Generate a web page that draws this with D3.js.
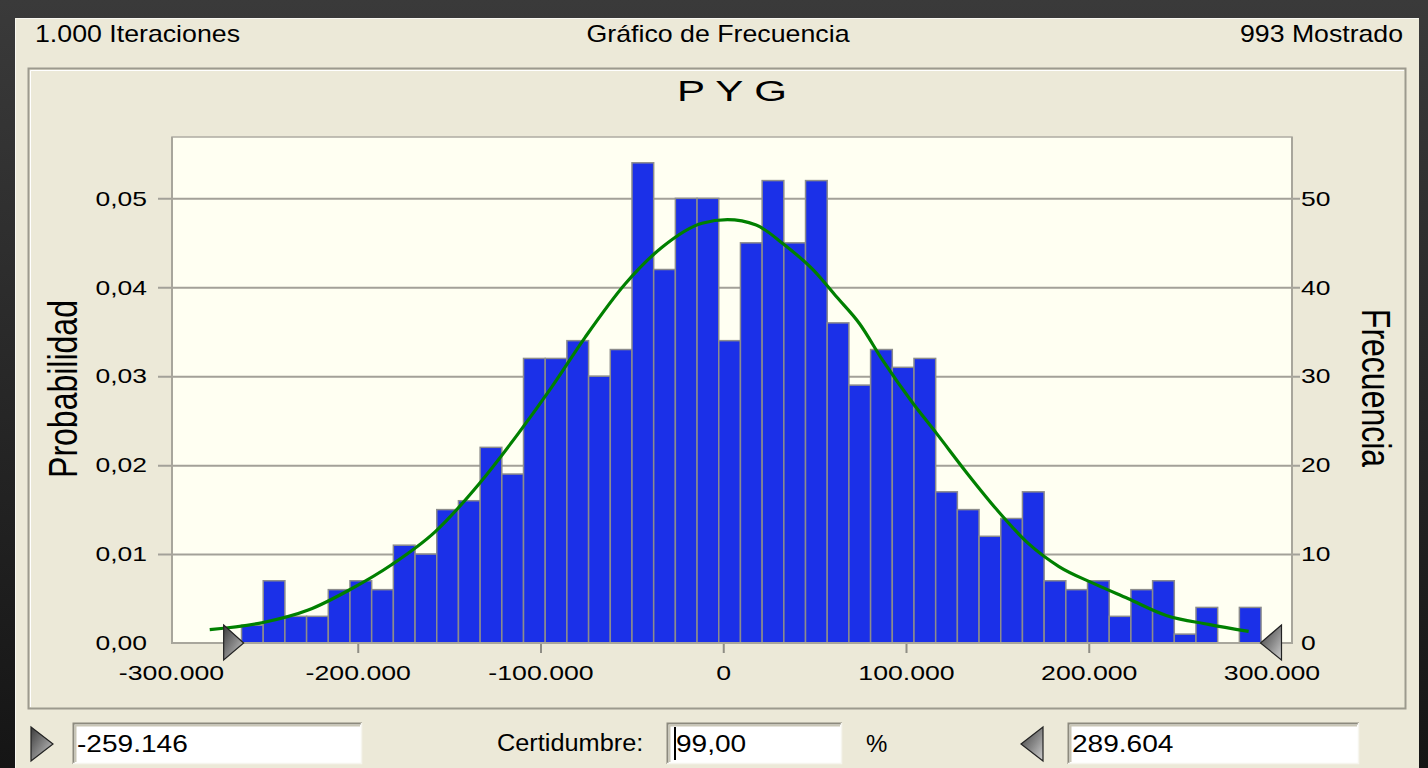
<!DOCTYPE html>
<html><head><meta charset="utf-8">
<script src="https://cdn.jsdelivr.net/npm/d3@7"></script>
<style>
html,body{margin:0;padding:0;background:#2a2a2a;overflow:hidden}
text{font-family:"Liberation Sans",Arial,sans-serif;fill:#000}
</style></head>
<body>
<svg id="c" width="1428" height="768"></svg>
<script>
// ---------- DATA ----------
const headerLeft = "1.000 Iteraciones";
const headerCenter = "Gráfico de Frecuencia";
const headerRight = "993 Mostrado";
const chartTitle = "P Y G";
const yLeftLabel = "Probabilidad";
const yRightLabel = "Frecuencia";
const binStart = -263600;      // left edge of first bin
const binWidth = 11870;        // bin width
const frequencies = [2,7,3,3,6,7,6,11,10,15,16,22,19,32,32,34,30,33,54,42,50,50,
  34,45,52,45,52,36,29,33,31,32,17,15,12,14,17,7,6,7,3,6,7,1,4,0,4];
const fitX = [-281,-251.8,-227.1,-203.4,-181.5,-157.7,-134,-112,-93.8,-75.5,-53.6,-33.5,-11.6,2.3,18,32.7,49.5,62.1,74.6,87.2,104,116.6,133.4,150.1,166.9,183.7,202.6,221.4,242.4,265.5,287.5];
const fitFreq = [1.5,2.3,3.7,6.1,8.8,12.5,17.8,23.6,28.8,34.4,40.4,44.5,47.2,47.6,47.0,44.9,41.9,38.9,35.9,31.8,26.9,23.6,19.1,14.9,11.2,8.6,6.7,5.0,3.1,2.1,1.3];
const xTicks = [-300000,-200000,-100000,0,100000,200000,300000];
const probTicks = [0,0.01,0.02,0.03,0.04,0.05];
const freqTicks = [0,10,20,30,40,50];
const certLow = -259146, certHigh = 289604;
const certLowText = "-259.146", certHighText = "289.604";
const certaintyLabel = "Certidumbre:";
const certaintyValue = "99,00";

// ---------- LAYOUT ----------
const svg = d3.select("#c");
const plot = {l:172, r:1292, t:137, b:643};
const loc = d3.formatLocale({decimal:",",thousands:".",grouping:[3],currency:["",""],minus:"-"});
const fmtX = loc.format(",.0f"), fmtP = loc.format(".2f");

const x = d3.scaleLinear().domain([-300000,300000]).range([175,1271.5]);
const yF = d3.scaleLinear().domain([0,56.9]).range([plot.b,plot.t]);
const yP = d3.scaleLinear().domain([0,0.0569]).range([plot.b,plot.t]);

function stretch(sel,k){sel.each(function(){const w=this.getComputedTextLength();this.setAttribute("textLength",w*k);this.setAttribute("lengthAdjust","spacingAndGlyphs");});}
function fitTo(sel,w){sel.attr("textLength",w).attr("lengthAdjust","spacingAndGlyphs");}

const defs = svg.append("defs");
const g1 = defs.append("linearGradient").attr("id","tri").attr("x1","0").attr("y1","0").attr("x2","1").attr("y2","1");
g1.append("stop").attr("offset","0").attr("stop-color","#3c3c3c");
g1.append("stop").attr("offset","0.55").attr("stop-color","#8a8a8a");
g1.append("stop").attr("offset","1").attr("stop-color","#d0d0d0");
const g0 = defs.append("linearGradient").attr("id","bg").attr("x1","0").attr("y1","0").attr("x2","0").attr("y2","1");
g0.append("stop").attr("offset","0").attr("stop-color","#3a3a3a");
g0.append("stop").attr("offset","1").attr("stop-color","#151515");

// background frame
svg.append("rect").attr("width",1428).attr("height",768).attr("fill","url(#bg)");
svg.append("rect").attr("x",15).attr("y",18).attr("width",1404).attr("height",760).attr("fill","#ECE9D8");
svg.append("path").attr("d","M15.5,768V18.5H1418.5").attr("fill","none").attr("stroke","#f8f7f0").attr("stroke-width",1);

// header
fitTo(svg.append("text").attr("x",35).attr("y",42).attr("font-size",24).text(headerLeft),205);
fitTo(svg.append("text").attr("x",718).attr("y",42).attr("text-anchor","middle").attr("font-size",24).text(headerCenter),263);
fitTo(svg.append("text").attr("x",1403).attr("y",42).attr("text-anchor","end").attr("font-size",24).text(headerRight),163);

// chart panel
svg.append("rect").attr("x",28.5).attr("y",68.5).attr("width",1377).attr("height",640).attr("fill","#ECE9D8").attr("stroke","#9c9a8e").attr("stroke-width",2);
svg.append("path").attr("d","M30.5,707V70.5H1404").attr("fill","none").attr("stroke","#ffffff").attr("stroke-width",1);

// title
fitTo(svg.append("text").attr("x",732).attr("y",101).attr("text-anchor","middle").attr("font-size",29).text(chartTitle),110);

// plot background
svg.append("rect").attr("x",plot.l).attr("y",plot.t).attr("width",plot.r-plot.l).attr("height",plot.b-plot.t)
  .attr("fill","#FFFFF2").attr("stroke","#aeaca2").attr("stroke-width",1.5);

// gridlines (extend outside as ticks)
const grid = svg.append("g").attr("transform","translate(158,0)")
  .call(d3.axisRight(yF).tickValues(freqTicks.slice(1)).tickSize(1300-158).tickFormat(""));
grid.select(".domain").remove();
grid.selectAll("line").attr("stroke","#a3a199").attr("stroke-width",2);

// bars
svg.append("g").selectAll("rect").data(frequencies).join("rect")
  .attr("x",(d,i)=>x(binStart+i*binWidth))
  .attr("width",(d,i)=>x(binStart+(i+1)*binWidth)-x(binStart+i*binWidth))
  .attr("y",d=>yF(d)).attr("height",d=>yF(0)-yF(d))
  .attr("fill","#1b30e8").attr("stroke","#8c8c8c").attr("stroke-width",1.5)
  .style("display",d=>d>0?null:"none");

// plot left/bottom border on top
svg.append("path").attr("d",`M${plot.l},${plot.t}V${plot.b}H${plot.r}V${plot.t}`).attr("fill","none").attr("stroke","#a8a69c").attr("stroke-width",2);

// fitted curve
const pts = fitX.map((v,i)=>[v*1000,fitFreq[i]]);
svg.append("path").datum(pts)
  .attr("d",d3.line().x(d=>x(d[0])).y(d=>yF(d[1])).curve(d3.curveMonotoneX))
  .attr("fill","none").attr("stroke","#008000").attr("stroke-width",3.2);

// left axis (probability)
const ax1 = svg.append("g").attr("transform",`translate(${plot.l},0)`)
  .call(d3.axisLeft(yP).tickValues(probTicks).tickSize(0).tickPadding(25).tickFormat(fmtP));
ax1.select(".domain").remove();
ax1.selectAll("text").attr("font-size",21).attr("font-family","Liberation Sans, Arial").attr("fill","#000");
stretch(ax1.selectAll("text"),1.26);

// right axis (frequency)
const ax2 = svg.append("g").attr("transform",`translate(${plot.r},0)`)
  .call(d3.axisRight(yF).tickValues(freqTicks).tickSize(0).tickPadding(9).tickFormat(d3.format("d")));
ax2.select(".domain").remove();
ax2.selectAll("text").attr("font-size",21).attr("font-family","Liberation Sans, Arial").attr("fill","#000");
stretch(ax2.selectAll("text"),1.26);

// bottom axis
const ax3 = svg.append("g").attr("transform",`translate(0,${plot.b})`)
  .call(d3.axisBottom(x).tickValues(xTicks).tickSize(10).tickPadding(12).tickFormat(fmtX));
ax3.select(".domain").remove();
ax3.selectAll("line").attr("stroke","#8f8d85").attr("stroke-width",2).attr("y1",1)
  .style("display",d=>(d===xTicks[0]||d===xTicks[xTicks.length-1])?"none":null);
ax3.selectAll("text").attr("font-size",21).attr("font-family","Liberation Sans, Arial").attr("fill","#000");
ax3.selectAll(".tick").filter(d=>d===xTicks[0]).select("text").attr("dx",-4);
stretch(ax3.selectAll("text"),1.27);

// axis titles
svg.append("text").attr("transform","translate(77,389) rotate(-90) scale(1,1.25)")
  .attr("text-anchor","middle").attr("font-size",32).text(yLeftLabel);
svg.append("text").attr("transform","translate(1362,388) rotate(90) scale(1,1.25)")
  .attr("text-anchor","middle").attr("font-size",32).text(yRightLabel);

// certainty markers on axis
const xl = x(certLow), xh = x(certHigh);
svg.append("path").attr("d",`M${xl-26},${plot.b-18}L${xl-6},${plot.b}L${xl-26},${plot.b+17}Z`)
  .attr("fill","url(#tri)").attr("stroke","#222").attr("stroke-width",1.2);
svg.append("path").attr("d",`M${xh+29},${plot.b-18}L${xh+8},${plot.b}L${xh+29},${plot.b+17}Z`)
  .attr("fill","url(#tri)").attr("stroke","#222").attr("stroke-width",1.2);

// bottom controls
function textbox(x0,y0,w,h){
  const g = svg.append("g");
  g.append("rect").attr("x",x0).attr("y",y0).attr("width",w).attr("height",h).attr("fill","#ffffff");
  g.append("path").attr("d",`M${x0+0.5},${y0+h}V${y0+0.5}H${x0+w}`).attr("fill","none").attr("stroke","#8c8a7e").attr("stroke-width",2);
  g.append("path").attr("d",`M${x0+2.5},${y0+h-2}V${y0+2.5}H${x0+w-2}`).attr("fill","none").attr("stroke","#c9c6b6").attr("stroke-width",2);
  g.append("path").attr("d",`M${x0},${y0+h-0.5}H${x0+w-0.5}V${y0}`).attr("fill","none").attr("stroke","#f6f5ee").attr("stroke-width",1.5);
  return g;
}
svg.append("path").attr("d","M31,727L53,744L31,761Z").attr("fill","url(#tri)").attr("stroke","#222").attr("stroke-width",1.2);
textbox(73,723,289,41);
stretch(svg.append("text").attr("x",77).attr("y",752).attr("font-size",23).text(certLowText),1.22);

stretch(svg.append("text").attr("x",497).attr("y",751).attr("font-size",23).text(certaintyLabel),1.1);
textbox(667,723,175,41);
svg.append("line").attr("x1",675).attr("x2",675).attr("y1",727).attr("y2",760).attr("stroke","#000").attr("stroke-width",2);
stretch(svg.append("text").attr("x",676).attr("y",752).attr("font-size",23).text(certaintyValue),1.22);
svg.append("text").attr("x",866).attr("y",752).attr("font-size",24).text("%");

svg.append("path").attr("d","M1043,727L1021,744L1043,761Z").attr("fill","url(#tri)").attr("stroke","#222").attr("stroke-width",1.2);
textbox(1068,723,291,41);
stretch(svg.append("text").attr("x",1072).attr("y",752).attr("font-size",23).text(certHighText),1.22);
</script>
</body></html>
